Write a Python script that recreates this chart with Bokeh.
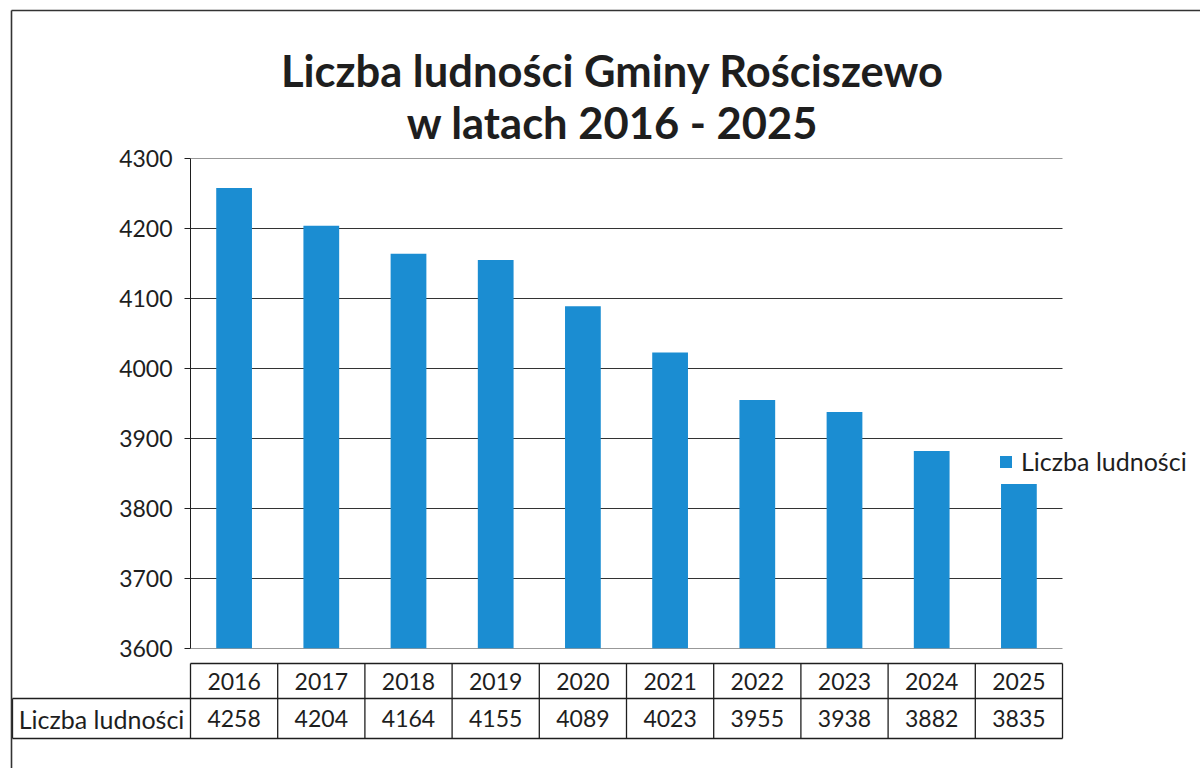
from bokeh.plotting import figure
from bokeh.models import (Range1d, FixedTicker, ColumnDataSource, Legend, LegendItem)
from bokeh.embed import file_html
from bokeh.resources import INLINE
from bokeh.core.properties import value

# ---- data ----
years = ["2016", "2017", "2018", "2019", "2020", "2021", "2022", "2023", "2024", "2025"]
population = [4258, 4204, 4164, 4155, 4089, 4023, 3955, 3938, 3882, 3835]
y_ticks = [3600, 3700, 3800, 3900, 4000, 4100, 4200, 4300]
title_lines = ["Liczba ludności Gminy Rościszewo", "w latach 2016 - 2025"]
series_name = "Liczba ludności"

# ---- layout (pixels) ----
W, H = 1200, 768
FL, FR, FT, FB = 190, 1062, 158, 648   # plot area of the chart
n = len(years)
slot = (FR - FL) / n
ymin, ymax = y_ticks[0], y_ticks[-1]
ppu = (FB - FT) / (ymax - ymin)


def px_x(px):
    return (px - FL) / slot


def px_y(py):
    return ymin + (FB - py) / ppu


FONT = "Lato"
BAR = "#1b8dd2"
INK = "#1e1e1e"

p = figure(width=W, height=H, x_range=Range1d(0, px_x(W)), y_range=Range1d(ymin, ymax),
           output_backend="svg", toolbar_location=None,
           min_border_left=FL, min_border_right=0,
           min_border_top=FT, min_border_bottom=H - FB)
p.outline_line_color = None
p.background_fill_color = "white"
p.border_fill_color = "white"

# y axis
p.yaxis.ticker = FixedTicker(ticks=y_ticks)
p.yaxis.major_label_text_font = FONT
p.yaxis.major_label_text_font_size = "23px"
p.yaxis.major_label_text_color = INK
p.yaxis.major_tick_out = 6
p.yaxis.major_tick_in = 0
p.yaxis.minor_tick_line_color = None
p.yaxis.axis_line_color = INK
p.yaxis.major_tick_line_color = INK
p.yaxis.major_label_standoff = 12
p.xaxis.visible = False
p.xgrid.visible = False
p.ygrid.visible = False

# horizontal gridlines across the plot area (0 .. n categories)
p.segment(x0=[0] * len(y_ticks), y0=y_ticks, x1=[n] * len(y_ticks), y1=y_ticks,
          line_color="#333333", line_width=1)

# bars
src = ColumnDataSource(dict(
    x=[i + 0.5 for i in range(n)],
    top=population,
    year=years,
    val=[str(v) for v in population],
))
r = p.vbar(x="x", top="top", bottom=ymin, width=0.41, source=src,
           fill_color=BAR, line_color=None)

legend = Legend(items=[LegendItem(label=series_name, renderers=[r])],
                location=(808, 172), padding=0, margin=0, spacing=0,
                glyph_width=15, glyph_height=15, label_standoff=8,
                label_text_font=FONT, label_text_font_size="25px",
                label_text_color=INK, border_line_color=None,
                background_fill_alpha=0)
p.add_layout(legend)

# title
p.text(x=[px_x(612)] * 2, y=[px_y(69), px_y(121)], text=title_lines,
       text_align="center", text_baseline="middle", text_font=value(FONT),
       text_font_style="bold", text_font_size="43.5px", text_color=INK,
       level="overlay")

# data table under the chart
T0, T1, T2, TL = 663, 698, 738, 12
xl = px_x(TL)
hx0 = [0, xl, xl]
hx1 = [n, n, n]
hy = [px_y(T0), px_y(T1), px_y(T2)]
vx = [float(i) for i in range(n + 1)] + [xl]
vy0 = [px_y(T0)] * (n + 1) + [px_y(T1)]
vy1 = [px_y(T2)] * (n + 2)
p.segment(x0=hx0, y0=hy, x1=hx1, y1=hy, line_color=INK, line_width=1.3, level="overlay")
p.segment(x0=vx, y0=vy0, x1=vx, y1=vy1, line_color=INK, line_width=1.3, level="overlay")

p.text(x="x", y=px_y((T0 + T1) / 2), text="year", source=src,
       text_align="center", text_baseline="middle",
       text_font=value(FONT), text_font_size="23px", text_color=INK, level="overlay")
p.text(x="x", y=px_y((T1 + T2) / 2), text="val", source=src,
       text_align="center", text_baseline="middle",
       text_font=value(FONT), text_font_size="23px", text_color=INK, level="overlay")
p.text(x=[xl / 2], y=[px_y((T1 + T2) / 2)], text=[series_name],
       text_align="center", text_baseline="middle", text_font=value(FONT),
       text_font_size="25px", text_color=INK, level="overlay")

# page border of the scanned sheet (left and top edges)
p.segment(x0=[px_x(11), px_x(11)], y0=[px_y(10), px_y(10)],
          x1=[px_x(11), px_x(1210)], y1=[px_y(800), px_y(10)],
          line_color="#333333", line_width=1.6, level="overlay")

open("out.html", "w").write(file_html(p, INLINE))
